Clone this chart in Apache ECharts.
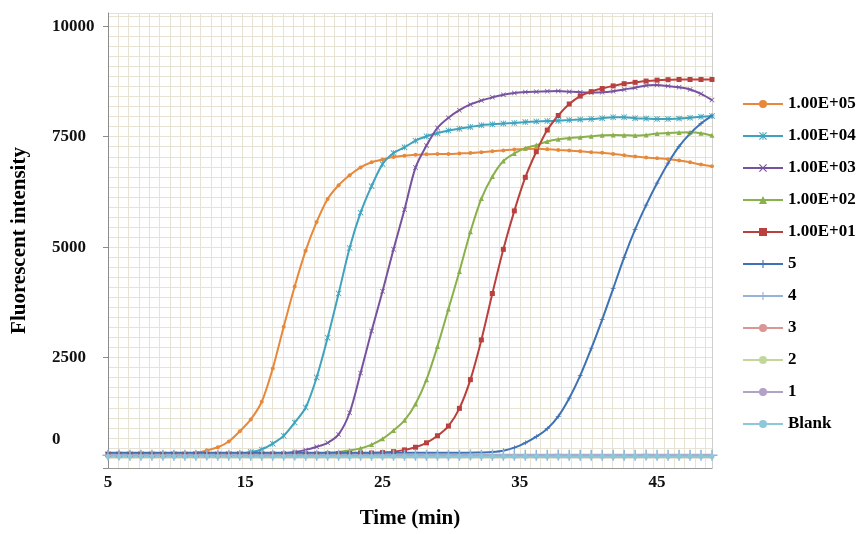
<!DOCTYPE html>
<html>
<head>
<meta charset="utf-8">
<script src="https://cdn.jsdelivr.net/npm/echarts@6/dist/echarts.min.js"></script>
<style>
html,body{margin:0;padding:0;background:#fff;}
#chart{width:860px;height:534px;}
</style>
</head>
<body>
<div id="chart"></div>
<script>
// ---- data ----
const times = [5,5.8,6.6,7.4,8.2,9,9.8,10.6,11.4,12.2,13,13.8,14.6,15.4,16.2,17,17.8,18.6,19.4,20.2,21,21.8,22.6,23.4,24.2,25,25.8,26.6,27.4,28.2,29,29.8,30.6,31.4,32.2,33,33.8,34.6,35.4,36.2,37,37.8,38.6,39.4,40.2,41,41.8,42.6,43.4,44.2,45,45.8,46.6,47.4,48.2,49];
const xTickLabels = [5,15,25,35,45];
const yTickLabels = [0,2500,5000,7500,10000];
const seriesNames = ['1.00E+05','1.00E+04','1.00E+03','1.00E+02','1.00E+01','5','4','3','2','1','Blank'];

const v1e5 = [310,310,308,310,312,310,314,322,340,400,470,600,830,1100,1500,2250,3200,4110,4920,5570,6090,6400,6625,6805,6920,6985,7040,7070,7090,7100,7110,7110,7120,7130,7150,7170,7190,7210,7220,7225,7215,7200,7185,7170,7150,7135,7110,7080,7050,7030,7010,6990,6960,6920,6870,6830];
const v1e4 = [310,308,310,310,308,310,310,308,310,312,310,315,325,360,420,550,730,1030,1370,2050,2950,3950,4980,5780,6380,6880,7130,7260,7410,7510,7580,7640,7680,7720,7760,7780,7800,7810,7830,7845,7855,7860,7875,7890,7900,7920,7940,7940,7920,7910,7900,7900,7910,7930,7950,7970];
const v1e3 = [310,310,308,310,310,308,310,310,312,310,308,310,310,312,315,320,330,360,410,480,570,760,1250,2150,3100,4000,4950,5850,6800,7300,7700,7930,8100,8230,8320,8390,8450,8490,8510,8520,8530,8535,8520,8505,8500,8505,8530,8570,8610,8660,8670,8645,8620,8570,8470,8330];
const v1e2 = [310,310,308,310,310,308,310,310,312,310,308,310,310,308,310,312,310,315,320,330,345,365,395,445,530,660,850,1080,1450,2000,2750,3600,4450,5350,6100,6600,6950,7120,7240,7310,7390,7440,7470,7490,7510,7530,7540,7535,7525,7540,7570,7585,7595,7600,7580,7530];
const v1e1 = [310,310,308,310,310,308,310,310,312,310,308,310,310,308,310,312,310,312,315,318,322,326,330,335,340,350,370,410,470,570,730,950,1350,2000,2900,3950,4950,5820,6580,7160,7650,7980,8240,8420,8520,8590,8650,8700,8730,8760,8780,8790,8795,8795,8795,8795];
const v5 = [345,343,345,345,343,345,347,345,343,345,345,343,345,347,345,343,345,345,343,345,347,345,343,345,345,343,345,347,345,343,345,345,343,347,352,362,390,460,570,710,890,1170,1580,2090,2700,3360,4060,4770,5400,5950,6450,6900,7280,7570,7800,7970];
const v4 = [290,292,290,288,290,291,290,289,290,292,290,288,290,291,290,289,290,292,290,288,290,291,290,289,290,292,290,288,290,291,290,289,290,292,290,288,290,291,290,289,290,292,290,288,290,291,290,289,290,292,290,288,290,291,290,289];
const v3 = [280,281,280,279,280,281,280,279,280,281,280,279,280,281,280,279,280,281,280,279,280,281,280,279,280,281,280,279,280,281,280,279,280,281,280,279,280,281,280,279,280,281,280,279,280,281,280,279,280,281,280,279,280,281,280,279];
const v2 = [275,276,275,274,275,276,275,274,275,276,275,274,275,276,275,274,275,276,275,274,275,276,275,274,275,276,275,274,275,276,275,274,275,276,275,274,275,276,275,274,275,276,275,274,275,276,275,274,275,276,275,274,275,276,275,274];
const v1 = [278,279,278,277,278,279,278,277,278,279,278,277,278,279,278,277,278,279,278,277,278,279,278,277,278,279,278,277,278,279,278,277,278,279,278,277,278,279,278,277,278,279,278,277,278,279,278,277,278,279,278,277,278,279,278,277];
const vBlank = [262,263,262,261,262,263,262,261,262,263,262,261,262,263,262,261,262,263,262,261,262,263,262,261,262,263,262,261,262,263,262,261,262,263,262,261,262,263,262,261,262,263,262,261,262,263,262,261,262,263,262,261,262,263,262,261];

// ---- styling ----
const FONT = 'Liberation Serif';
const PLUS = 'path://M4.3,0H5.7V4.3H10V5.7H5.7V10H4.3V5.7H0V4.3H4.3Z';
const XMARK = 'path://M0,1L1,0L5,4L9,0L10,1L6,5L10,9L9,10L5,6L1,10L0,9L4,5Z';
const STAR = 'path://M0,1L1,0L10,9L9,10Z M9,0L10,1L1,10L0,9Z M4.4,0H5.6V10H4.4Z';

const defs = [
  {vals:v1e5, color:'#E8883A', symbol:'circle', size:4, width:2},
  {vals:v1e4, color:'#3FA3BD', symbol:STAR, size:6, width:2},
  {vals:v1e3, color:'#7752A0', symbol:XMARK, size:5, width:2},
  {vals:v1e2, color:'#88B04B', symbol:'triangle', size:5, width:2},
  {vals:v1e1, color:'#B9403E', symbol:'rect', size:5, width:2},
  {vals:v5, color:'#3F72B5', symbol:PLUS, size:5, width:2},
  {vals:v4, color:'#95B3D7', symbol:PLUS, size:11, width:3},
  {vals:v3, color:'#D99694', symbol:'none', size:0, width:3},
  {vals:v2, color:'#C3D69B', symbol:'none', size:0, width:3},
  {vals:v1, color:'#B3A2C7', symbol:'none', size:0, width:3},
  {vals:vBlank, color:'#8FC7DA', symbol:'circle', size:5, width:3}
];

const series = defs.map((d, i) => ({
  name: seriesNames[i],
  type: 'line',
  xAxisIndex: 0,
  yAxisIndex: 0,
  smooth: 0.3,
  data: times.map((t, k) => [t, d.vals[k]]),
  symbol: d.symbol,
  symbolSize: d.size,
  showSymbol: d.symbol !== 'none',
  lineStyle: {color: d.color, width: d.width},
  itemStyle: {color: d.color},
  emphasis: {disabled: true}
}));

const gridColor = '#E6E3D5';
const chart = echarts.init(document.getElementById('chart'), null, {renderer: 'canvas'});
chart.setOption({
  animation: false,
  backgroundColor: '#fff',
  grid: {left: 108, right: 148, top: 13, bottom: 63, containLabel: false},
  legend: {
    orient: 'vertical',
    left: 742,
    top: 95,
    padding: 0,
    itemWidth: 40,
    itemHeight: 10,
    itemGap: 14,
    data: seriesNames,
    textStyle: {fontFamily: FONT, fontWeight: 'bold', fontSize: 17, color: '#000', lineHeight: 18}
  },
  xAxis: [
    {
      type: 'value', min: 5, max: 49, interval: 10,
      name: 'Time (min)', nameLocation: 'middle', nameGap: 40,
      nameTextStyle: {fontFamily: FONT, fontWeight: 'bold', fontSize: 21, color: '#000'},
      axisLine: {show: true, lineStyle: {color: '#9a9a9a', width: 1}},
      axisTick: {show: false},
      splitLine: {show: false},
      axisLabel: {
        margin: 6, showMaxLabel: false,
        fontFamily: FONT, fontWeight: 'bold', fontSize: 17, color: '#111',
        formatter: v => (xTickLabels.indexOf(v) >= 0 ? String(v) : '')
      }
    },
    {
      type: 'value', min: 5, max: 49, interval: 0.75, position: 'top',
      axisLine: {show: false}, axisTick: {show: false}, axisLabel: {show: false},
      splitLine: {show: true, lineStyle: {color: gridColor, width: 1}}
    }
  ],
  yAxis: [
    {
      type: 'value', min: 0, max: 10300, interval: 2500,
      name: 'Fluorescent intensity', nameLocation: 'middle', nameGap: 78,
      nameTextStyle: {fontFamily: FONT, fontWeight: 'bold', fontSize: 21, color: '#000'},
      axisLine: {show: true, lineStyle: {color: '#8c8c8c', width: 1}},
      axisTick: {show: true, length: 5, lineStyle: {color: '#8c8c8c'}},
      splitLine: {show: false},
      axisLabel: {
        margin: 56, align: 'left', showMaxLabel: false,
        fontFamily: FONT, fontWeight: 'bold', fontSize: 17, color: '#111',
        formatter: v => (v === 0 ? '{z|0}' : (yTickLabels.indexOf(v) >= 0 ? String(v) : '')),
        rich: {z: {fontFamily: FONT, fontWeight: 'bold', fontSize: 17, color: '#111', padding: [0, 0, 56, 0]}}
      }
    },
    {
      type: 'value', min: 0, max: 10300, interval: 2500 / 11, position: 'right',
      axisLine: {show: true, lineStyle: {color: '#cfcfcf', width: 1}},
      axisTick: {show: false}, axisLabel: {show: false},
      splitLine: {show: true, lineStyle: {color: gridColor, width: 1}}
    }
  ],
  series: series
});
</script>
</body>
</html>
